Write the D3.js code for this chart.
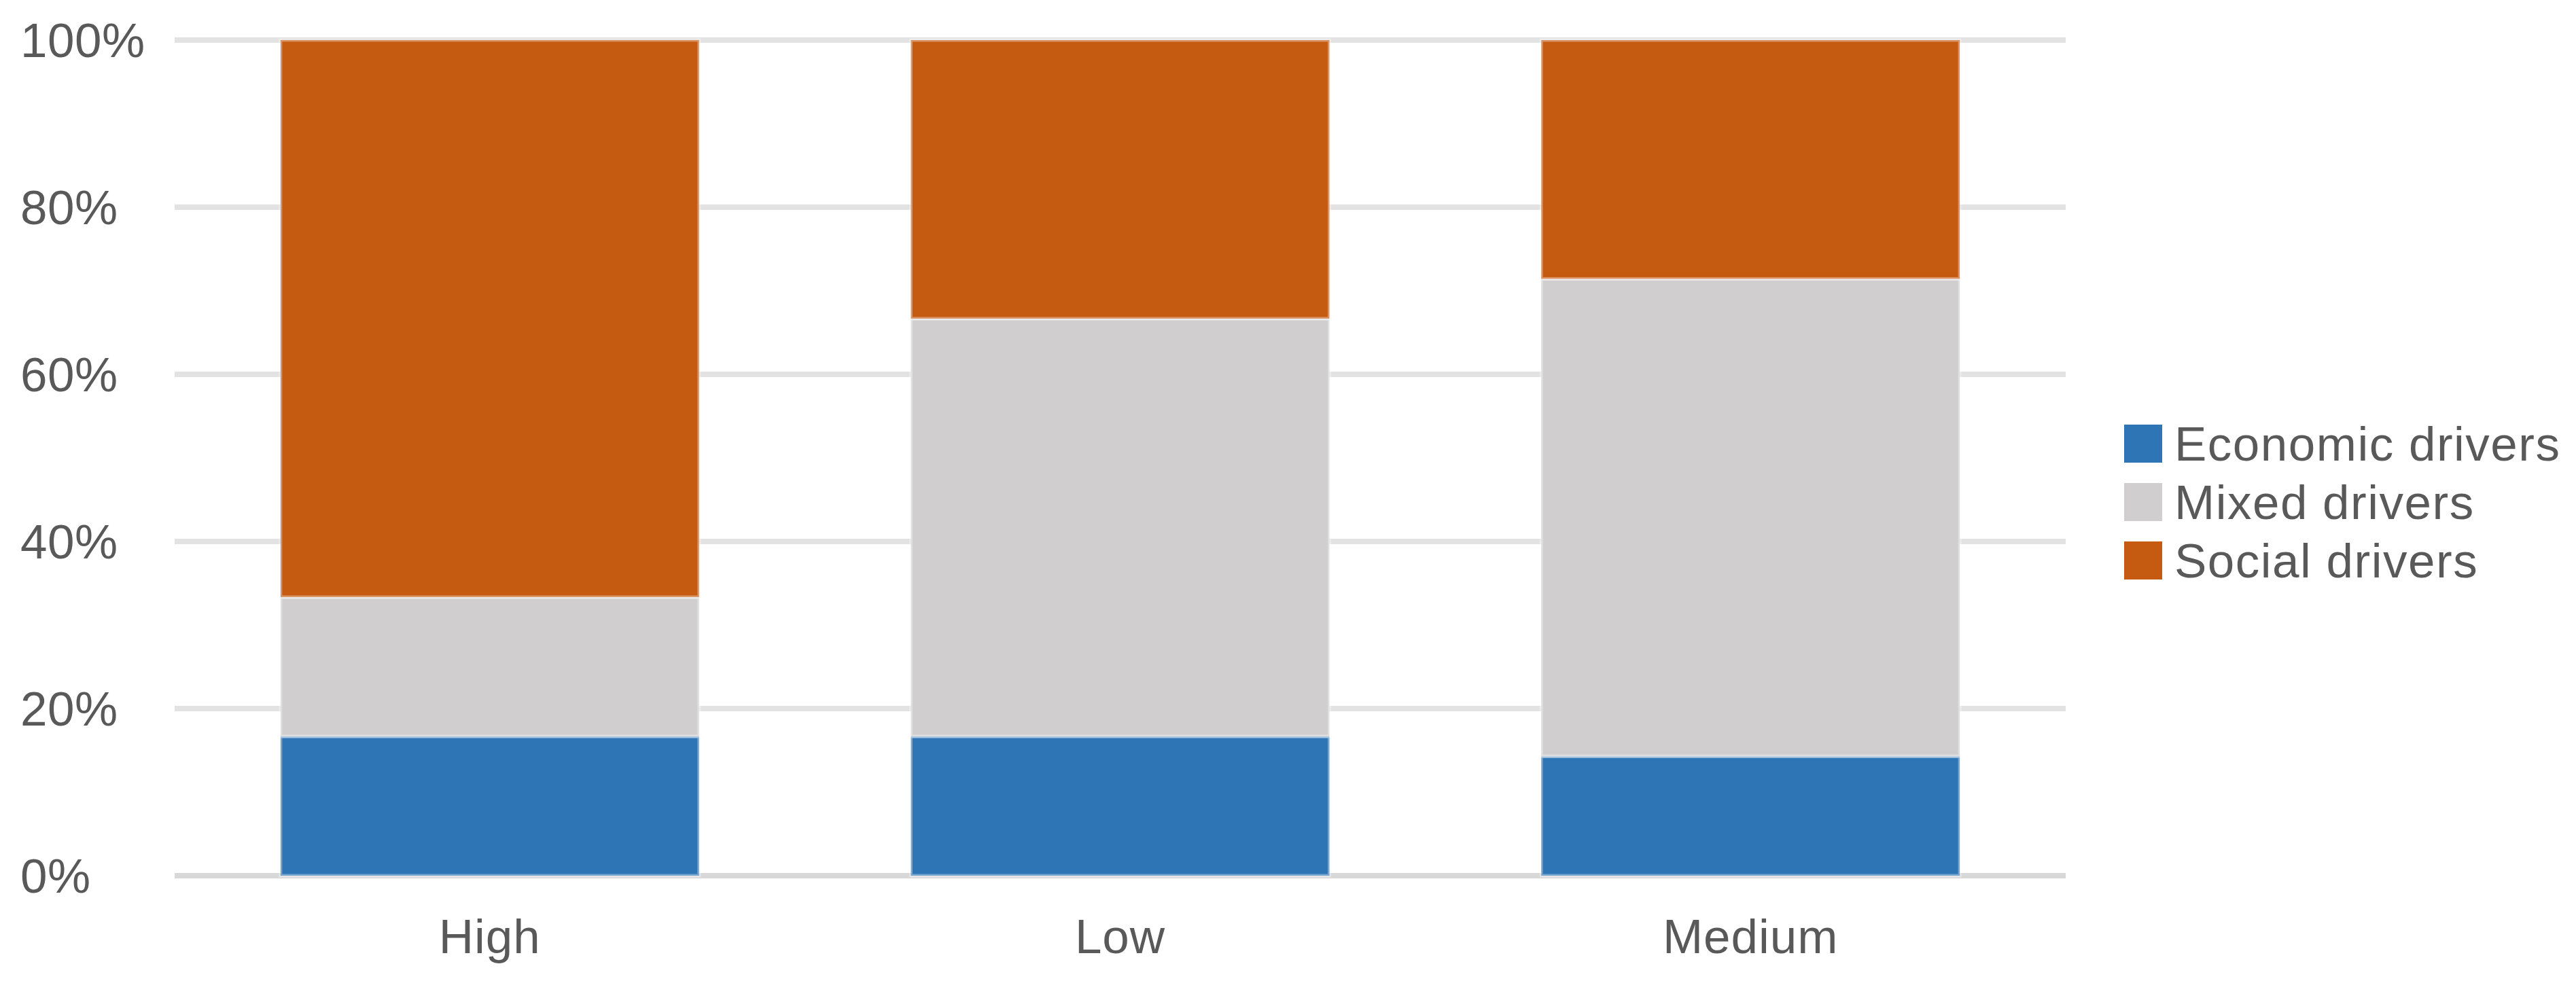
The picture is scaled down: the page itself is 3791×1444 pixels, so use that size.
<!DOCTYPE html>
<html>
<head>
<meta charset="utf-8">
<script src="https://cdn.jsdelivr.net/npm/d3@7"></script>
<style>
  html, body { margin: 0; padding: 0; background: #ffffff; }
  svg { display: block; }
</style>
</head>
<body>
<script>
// ---- data ----
const categories = ["High", "Low", "Medium"];
const seriesNames = ["Economic drivers", "Mixed drivers", "Social drivers"];
const economic = [16.67, 16.67, 14.29];
const mixed = [16.67, 50.0, 57.14];
const social = [66.67, 33.33, 28.57];
const yTicks = [0, 20, 40, 60, 80, 100];
const colors = ["#2E75B6", "#D0CECE", "#C55A11"];

// ---- layout ----
const W = 3791, H = 1444;
const plot = { left: 257, right: 3040, top: 59, bottom: 1289 };
const fontFamily = "'Liberation Sans', Arial, sans-serif";
const textColor = "#595959";
const fontSize = 71;

const svg = d3.select("body").append("svg").attr("width", W).attr("height", H);

const x = d3.scaleBand().domain(categories).range([plot.left, plot.right]).paddingInner(0.336).paddingOuter(0.168);
const y = d3.scaleLinear().domain([0, 100]).range([plot.bottom, plot.top]);

const rows = categories.map((c, i) => ({ cat: c, "Economic drivers": economic[i], "Mixed drivers": mixed[i], "Social drivers": social[i] }));
const stacked = d3.stack().keys(seriesNames)(rows);

// gridlines
svg.append("g").selectAll("line").data(yTicks).join("line")
  .attr("x1", plot.left).attr("x2", plot.right)
  .attr("y1", d => y(d)).attr("y2", d => y(d))
  .attr("stroke", d => d === 0 ? "#d8d8d8" : "#e2e2e2")
  .attr("stroke-width", 8);

// y labels (left-aligned)
svg.append("g").selectAll("text").data(yTicks).join("text")
  .attr("x", 30).attr("y", d => y(d))
  .attr("dominant-baseline", "central")
  .attr("font-family", fontFamily).attr("font-size", fontSize)
  .attr("letter-spacing", 0.5)
  .attr("fill", textColor)
  .text(d => d + "%");

// bars
const g = svg.append("g");
stacked.forEach((layer, si) => {
  g.append("g").selectAll("rect").data(layer).join("rect")
    .attr("x", d => x(d.data.cat))
    .attr("width", x.bandwidth())
    .attr("y", d => y(d[1]))
    .attr("height", d => y(d[0]) - y(d[1]))
    .attr("fill", colors[si])
    .attr("stroke", "rgba(255,255,255,0.35)")
    .attr("stroke-width", 5);
});

// x labels
const xAxis = d3.axisBottom(x).tickSize(0).tickPadding(0);
const xg = svg.append("g").attr("transform", `translate(0, ${plot.bottom})`).call(xAxis);
xg.select(".domain").remove();
xg.selectAll("text")
  .attr("y", 114)
  .attr("dy", 0)
  .attr("font-family", fontFamily).attr("font-size", fontSize)
  .attr("letter-spacing", 1)
  .attr("fill", textColor);

// legend
const legend = svg.append("g");
const legendY = [653, 739, 825];
seriesNames.forEach((name, i) => {
  legend.append("rect")
    .attr("x", 3126).attr("y", legendY[i] - 28)
    .attr("width", 56).attr("height", 56)
    .attr("fill", colors[i]);
  legend.append("text")
    .attr("x", 3200).attr("y", legendY[i])
    .attr("dominant-baseline", "central")
    .attr("font-family", fontFamily).attr("font-size", fontSize)
    .attr("letter-spacing", 1.5)
    .attr("fill", textColor)
    .text(name);
});
</script>
</body>
</html>
